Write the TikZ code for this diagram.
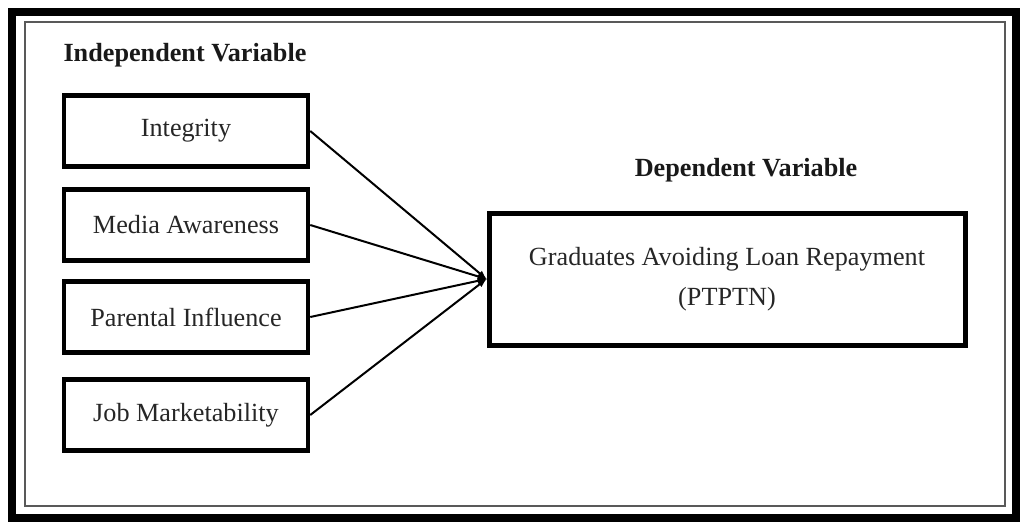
\documentclass[tikz,border=0pt]{standalone}
\usepackage{fontspec}
\setmainfont{Liberation Serif}
\usepackage{tikz}
\usetikzlibrary{arrows,%
                shapes,positioning}

\begin{document}
\begin{tikzpicture}[x=1pt,y=-1pt,
  varbox/.style={draw,line width=4.5pt,minimum width=244pt,minimum height=71pt,
    inner sep=0pt,font=\fontsize{26.2}{40}\selectfont,text=black!85},
  heading/.style={font=\fontsize{26.2}{30}\selectfont\bfseries,text=black!90},
  link/.style={line width=2pt,-latex}]
\useasboundingbox (0,0) rectangle (1028,523);
\draw[line width=8pt] (12,12) rectangle (1016,518);
\draw[line width=2pt,black!65] (25,22) rectangle (1005,506);

\node[heading] (indep) at (185,55) {Independent Variable};
\node[heading] (dep) at (746,170) {Dependent Variable};

\node[varbox] (integrity) at (186,131) {Integrity};
\node[varbox] (media) at (186,225) {Media Awareness};
\node[varbox] (parental) at (186,317) {Parental Influence};
\node[varbox] (job) at (186,415) {Job Marketability};

\node[varbox,minimum width=476pt,minimum height=132pt,align=center,line width=5pt]
  (loan) at (727,279) {Graduates Avoiding Loan Repayment\\(PTPTN)};

\draw[link] (integrity.east) -- (loan.west);
\draw[link] (media.east) -- (loan.west);
\draw[link] (parental.east) -- (loan.west);
\draw[link] (job.east) -- (loan.west);
\end{tikzpicture}
\end{document}
